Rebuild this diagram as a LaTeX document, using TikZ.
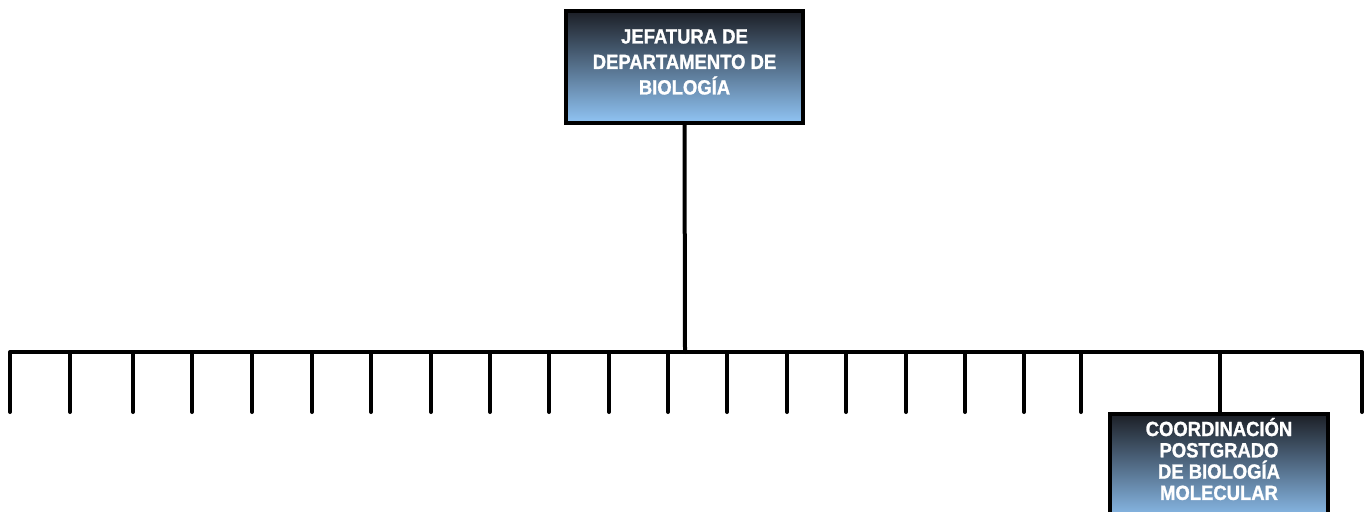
\documentclass[tikz,border=0pt]{standalone}
\usepackage{fontspec}
\newfontfamily\boxfont[FakeStretch=0.9,BoldFeatures={FakeBold=1.2}]{Liberation Sans}
\begin{document}
\begin{tikzpicture}[x=1pt,y=-1pt,
  conn/.style={line width=4pt, line cap=round, line join=round, black},
  orgbox/.style={draw=black, line width=4pt, top color={rgb,255:red,28;green,31;blue,38}, bottom color={rgb,255:red,144;green,196;blue,244}, minimum width=237pt, anchor=north, inner sep=0pt},
  orgtext/.style={text=white, font=\boxfont\bfseries\fontsize{20.5}{25.5}\selectfont, align=center}
]
\useasboundingbox (0,0) rectangle (1372,511);
% top box
\node[orgbox, minimum width=237pt, minimum height=112pt] (jef) at (684.5,9) {};
\node[orgtext] (jeft) at (684.5,62) {JEFATURA DE\\DEPARTAMENTO DE\\BIOLOGÍA};
% bus
\coordinate (busc) at (685,352);
\coordinate (bl) at (10,352);
\coordinate (br) at (1362,352);
\coordinate (bld) at (10,412);
\coordinate (brd) at (1362,412);
\draw[conn] (jef.south) -- (busc);
\draw[conn] (bld) -- (bl) -- (br) -- (brd);
% drops
\foreach \x [count=\i] in {70,133,192,252,312,371,431,490,549,609,668,727,787,846,906,965,1024,1081,1220}{
  \coordinate (t\i) at (\x,352);
  \coordinate (d\i) at (\x,412);
  \draw[conn] (t\i) -- (d\i);
}
% bottom box
\node[orgbox, minimum width=218pt, minimum height=110pt] (coord) at (1219,412) {};
\node[orgtext, font=\boxfont\bfseries\fontsize{20.5}{21.3}\selectfont] (coordt) at (1219,459) {COORDINACIÓN\\POSTGRADO\\DE BIOLOGÍA\\MOLECULAR};
\end{tikzpicture}
\end{document}
